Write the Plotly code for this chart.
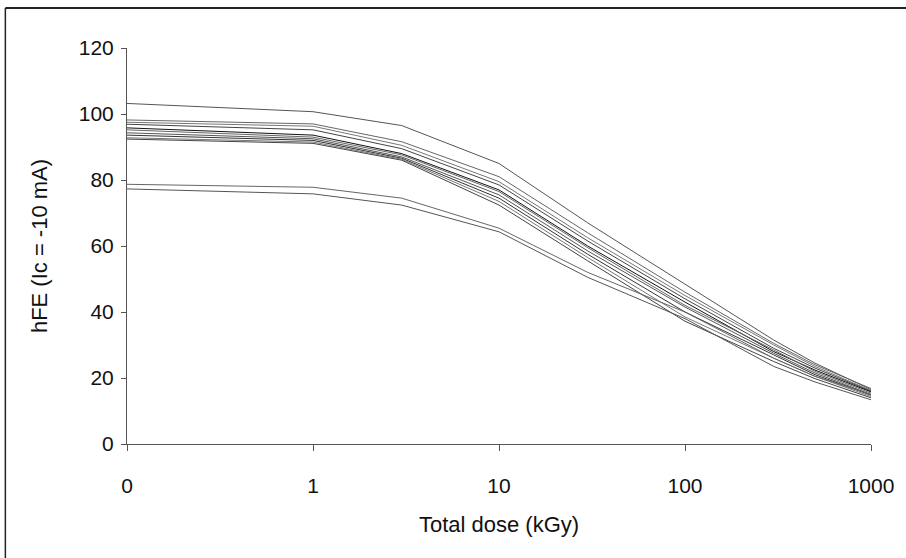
import plotly.graph_objects as go

# Dose values (kGy); the "0" dose is placed at 0.1 on the log axis and labelled "0"
dose = [0.1, 1, 3, 10, 30, 100, 300, 500, 1000]

# hFE (Ic = -10 mA) for each device
curves = [
    [103.2, 100.7, 96.5, 85.0, 67.0, 48.5, 31.5, 24.5, 16.5],
    [98.2, 97.0, 91.6, 81.0, 64.0, 46.0, 30.5, 24.0, 16.8],
    [97.5, 96.3, 90.5, 79.5, 62.5, 45.0, 30.0, 23.5, 16.2],
    [96.9, 95.2, 89.5, 78.5, 61.5, 44.0, 29.0, 23.0, 16.0],
    [95.8, 93.6, 88.0, 77.0, 60.0, 43.0, 28.0, 22.4, 15.8],
    [95.2, 93.0, 87.6, 76.5, 59.5, 42.0, 28.5, 22.0, 15.4],
    [94.3, 92.5, 87.0, 75.5, 58.5, 41.5, 27.5, 21.5, 15.0],
    [93.6, 92.0, 86.6, 74.5, 57.5, 40.0, 27.0, 21.0, 14.8],
    [92.8, 91.5, 86.3, 73.5, 56.5, 38.5, 26.0, 20.5, 14.4],
    [92.4, 91.1, 86.0, 72.4, 55.5, 37.2, 25.0, 19.8, 14.0],
    [78.7, 77.8, 74.5, 65.4, 52.0, 40.0, 26.0, 20.5, 15.0],
    [77.3, 75.8, 72.4, 64.3, 50.5, 38.0, 23.5, 18.8, 13.4],
]
colors = ["#555555", "#666666", "#777777", "#444444", "#111111", "#666666",
          "#555555", "#333333", "#777777", "#444444", "#666666", "#555555"]

tick_vals = [0.1, 1, 10, 100, 1000]
tick_text = ["0", "1", "10", "100", "1000"]
y_ticks = [0, 20, 40, 60, 80, 100, 120]

fig = go.Figure()
for ys, c in zip(curves, colors):
    fig.add_trace(go.Scatter(x=dose, y=ys, mode="lines",
                             line=dict(color=c, width=1), showlegend=False,
                             hoverinfo="skip"))

font_family = "Liberation Sans, Arial, sans-serif"
fig.update_layout(
    width=906, height=558,
    margin=dict(l=127, r=33, t=48, b=114),
    paper_bgcolor="white", plot_bgcolor="white",
    font=dict(family=font_family, size=21, color="#111"),
    xaxis=dict(type="log", range=[-1, 3], tickvals=tick_vals, ticktext=tick_text,
               showgrid=False, zeroline=False, showline=True, linecolor="#555",
               linewidth=1, ticks="outside", ticklen=6, tickcolor="#555",
               ticklabelstandoff=17, tickfont=dict(size=21),
               title=dict(text="Total dose (kGy)", font=dict(size=22), standoff=20)),
    yaxis=dict(range=[0, 120], tickvals=y_ticks, showgrid=False, zeroline=False,
               showline=True, linecolor="#555", linewidth=1, ticks="outside",
               ticklen=5, tickcolor="#555", ticklabelstandoff=3, tickfont=dict(size=21),
               title=dict(text="hFE (Ic = -10 mA)", font=dict(size=22), standoff=25)),
    shapes=[
        dict(type="line", xref="paper", yref="paper", x0=-0.1635, x1=1.05,
             y0=1.101, y1=1.101, line=dict(color="#222", width=2)),
        dict(type="line", xref="paper", yref="paper", x0=-0.1635, x1=-0.1635,
             y0=-0.3, y1=1.101, line=dict(color="#222", width=1.5)),
    ],
)

fig.write_html("out.html")
